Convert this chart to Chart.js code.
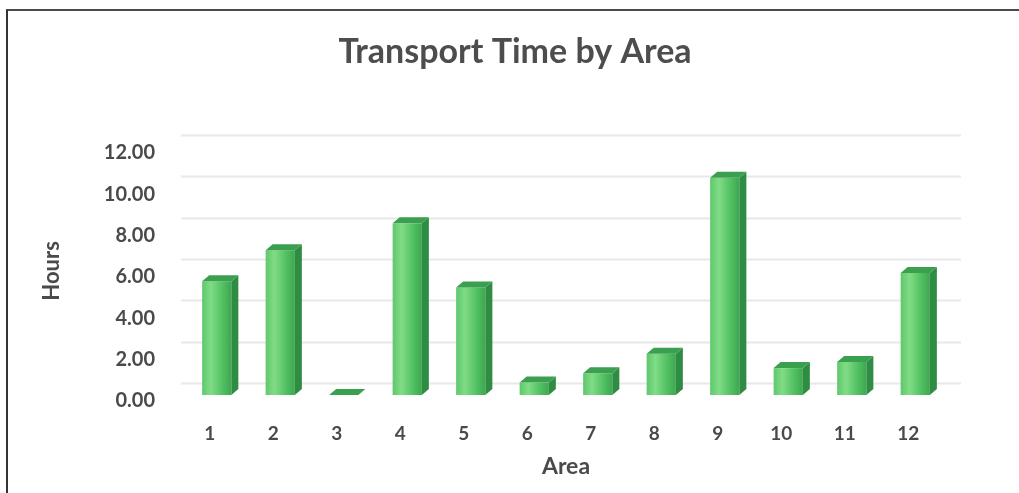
<!DOCTYPE html>
<html>
<head>
<meta charset="utf-8">
<script src="https://cdn.jsdelivr.net/npm/chart.js@4"></script>
<style>
  html, body { margin: 0; padding: 0; background: #fff; }
  #wrap { position: relative; width: 1019px; height: 493px; }
  #frame { position: absolute; left: 6px; top: 9px; right: 0; bottom: 0;
           border-left: 2px solid #333; border-top: 2px solid #4a4a4a; pointer-events: none; }
  canvas { position: absolute; left: 0; top: 0; }
</style>
</head>
<body>
<div id="wrap">
  <canvas id="c" width="1019" height="493"></canvas>
  <div id="frame"></div>
</div>
<script>
const chartTitle = "Transport Time by Area";
const xAxisTitle = "Area";
const yAxisTitle = "Hours";
const areas = ["1","2","3","4","5","6","7","8","9","10","11","12"];
const hours = [5.5, 7.0, 0, 8.3, 5.2, 0.6, 1.05, 2.0, 10.5, 1.3, 1.6, 5.9];
const yTicks = [0, 2, 4, 6, 8, 10, 12];

const DX = 7, DY = 6;
const textColor = "#4a4a4a";

const gridPlugin = {
  id: "backGrid",
  beforeDatasetsDraw(chart) {
    const { ctx, chartArea, scales } = chart;
    ctx.save();
    ctx.strokeStyle = "#e8e8e8";
    ctx.lineWidth = 2;
    yTicks.forEach(v => {
      const y = Math.round(scales.y.getPixelForValue(v) - 12) + 0.5;
      ctx.beginPath();
      ctx.moveTo(chartArea.left - 4, y);
      ctx.lineTo(chartArea.right + 14, y);
      ctx.stroke();
    });
    ctx.restore();
  }
};

const bar3d = {
  id: "bar3d",
  afterDatasetsDraw(chart) {
    const { ctx } = chart;
    const meta = chart.getDatasetMeta(0);
    ctx.save();
    meta.data.forEach(el => {
      const { x, y, base, width } = el.getProps(["x", "y", "base", "width"], true);
      const l = x - width / 2, r = x + width / 2;
      const g = ctx.createLinearGradient(l, 0, r, 0);
      g.addColorStop(0, "#5ec86b");
      g.addColorStop(0.3, "#80dc86");
      g.addColorStop(0.7, "#52c161");
      g.addColorStop(1, "#3ea652");
      if (base - y > 0.5) {
        ctx.fillStyle = g;
        ctx.fillRect(l, y, width, base - y);
      }
      ctx.fillStyle = "#2f8c43";
      ctx.beginPath();
      ctx.moveTo(r, y);
      ctx.lineTo(r + DX, y - DY);
      ctx.lineTo(r + DX, base - DY);
      ctx.lineTo(r, base);
      ctx.closePath();
      ctx.fill();
      ctx.fillStyle = "#3a9f4f";
      ctx.beginPath();
      ctx.moveTo(l, y);
      ctx.lineTo(l + DX, y - DY);
      ctx.lineTo(r + DX, y - DY);
      ctx.lineTo(r, y);
      ctx.closePath();
      ctx.fill();
    });
    ctx.restore();
  }
};

new Chart(document.getElementById("c"), {
  type: "bar",
  data: {
    labels: areas,
    datasets: [{
      data: hours,
      backgroundColor: "rgba(0,0,0,0)",
      borderWidth: 0,
      barPercentage: 0.46,
      categoryPercentage: 1.0
    }]
  },
  options: {
    responsive: false,
    animation: false,
    devicePixelRatio: 1,
    layout: { padding: { left: 11, right: 0, top: 0, bottom: 0 } },
    plugins: {
      legend: { display: false },
      tooltip: { enabled: false },
      title: {
        display: true,
        text: chartTitle,
        color: "#4d4d4d",
        font: { family: "Lato", size: 34, weight: "bold" },
        padding: { top: 32, bottom: 74 }
      }
    },
    scales: {
      x: {
        grid: { display: false, drawTicks: false },
        border: { display: false },
        ticks: {
          color: textColor,
          font: { family: "Lato", size: 19, weight: "bold" },
          padding: 27,
          labelOffset: -7,
          maxRotation: 0
        },
        title: {
          display: true,
          text: xAxisTitle,
          color: textColor,
          font: { family: "Lato", size: 23, weight: "bold" },
          padding: { top: 0, bottom: 13 }
        },
        afterFit(s) { s.height = 98; }
      },
      y: {
        min: 0,
        max: 12,
        afterBuildTicks(s) { s.ticks = yTicks.map(v => ({ value: v })); },
        grid: { display: false, drawTicks: false },
        border: { display: false },
        ticks: {
          color: textColor,
          font: { family: "Lato", size: 20, weight: "bold" },
          padding: 30,
          labelOffset: 6,
          callback: v => Number(v).toFixed(2)
        },
        title: {
          display: true,
          text: yAxisTitle,
          color: textColor,
          font: { family: "Lato", size: 22, weight: "bold" },
          padding: { top: 28, bottom: 0 }
        },
        afterFit(s) { s.width = 174; }
      },
      yRight: {
        position: "right",
        display: true,
        grid: { display: false, drawTicks: false },
        border: { display: false },
        ticks: { display: false },
        afterFit(s) { s.width = 72; }
      }
    }
  },
  plugins: [gridPlugin, bar3d]
});
</script>
</body>
</html>
